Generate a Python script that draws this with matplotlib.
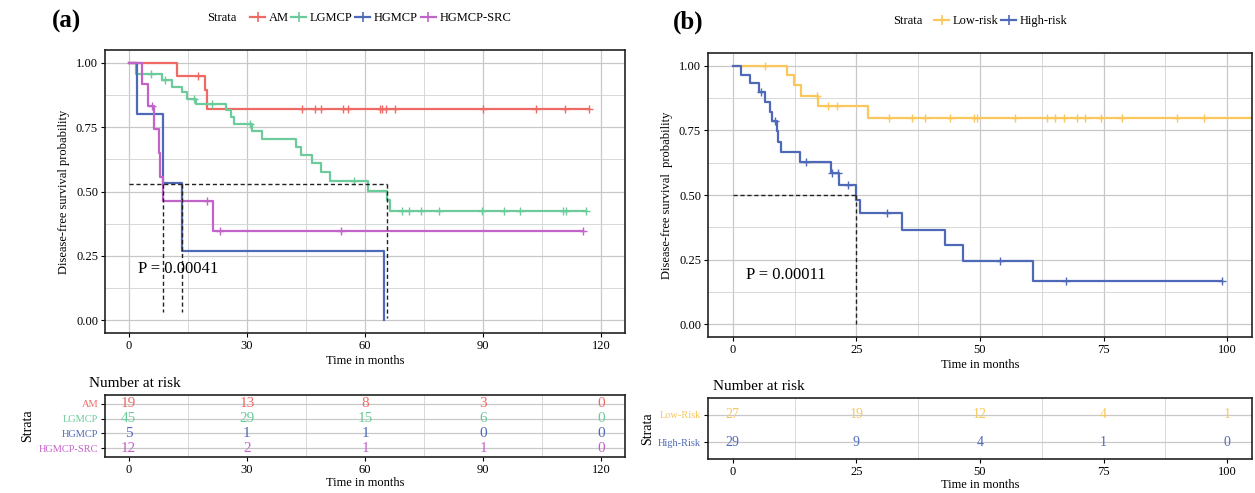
import numpy as np
import matplotlib
matplotlib.use("Agg")
import matplotlib.pyplot as plt
from matplotlib.lines import Line2D
from matplotlib.ticker import MultipleLocator

plt.rcParams['font.family'] = ['Liberation Serif', 'DejaVu Serif']

# ---- panel (a) data ----
am_t = [0, 12.3, 19.3, 19.8, 116.8]
am_s = [1.0, 0.947, 0.893, 0.821, 0.821]
am_c = [17.6, 43.9, 47.2, 48.8, 54.3, 55.6, 63.7, 64.4, 65.3, 67.7, 89.9, 103.3, 110.8, 116.8]

lg_t = [0, 1.8, 8.4, 11.0, 13.6, 14.9, 17.1, 24.6, 25.9, 26.8, 31.2, 33.8, 42.6, 43.7,
        46.6, 48.8, 51.0, 60.7, 65.7, 66.4, 116.2]
lg_s = [1.0, 0.955, 0.933, 0.907, 0.887, 0.861, 0.842, 0.816, 0.790, 0.762, 0.736, 0.705,
        0.674, 0.641, 0.609, 0.576, 0.541, 0.503, 0.466, 0.425, 0.425]
lg_c = [5.7, 9.2, 16.7, 21.1, 30.8, 57.1, 69.5, 71.2, 74.3, 78.7, 89.8, 95.4, 99.3,
        110.3, 111.1, 116.2]

hg_t = [0, 2.0, 8.8, 13.5, 64.8]
hg_s = [1.0, 0.8, 0.533, 0.267, 0.0]
hg_c = []

hs_t = [0, 3.5, 4.8, 6.5, 7.6, 7.9, 8.6, 21.5, 115.4]
hs_s = [1.0, 0.917, 0.833, 0.741, 0.648, 0.556, 0.463, 0.347, 0.347]
hs_c = [6.0, 20.0, 23.3, 54.0, 115.4]

a_names = ["AM", "LGMCP", "HGMCP", "HGMCP-SRC"]
a_cols = ["#EE6A64", "#6CCB9A", "#4E69B8", "#C263C9"]
a_risk_times = [0, 30, 60, 90, 120]
a_risk = [[19, 13, 8, 3, 0], [45, 29, 15, 6, 0], [5, 1, 1, 0, 0], [12, 2, 1, 1, 0]]
a_med_y = 0.53
a_med_x = [8.6, 13.5, 65.7]
a_med_bottom = [0.03, 0.03, 0.01]

# ---- panel (b) data ----
low_t = [0, 10.9, 12.4, 13.8, 17.3, 27.3, 106]
low_s = [1.0, 0.963, 0.926, 0.883, 0.845, 0.80, 0.80]
low_c = [6.5, 17.0, 19.3, 21.0, 31.5, 36.3, 38.8, 44.0, 48.8, 49.3, 57.0, 63.5, 65.1,
         67.0, 69.7, 71.2, 74.5, 78.8, 89.9, 95.2]
high_t = [0, 1.7, 3.5, 5.4, 6.5, 7.6, 8.0, 8.9, 9.2, 9.8, 13.6, 19.9, 21.5, 24.9, 25.8,
          34.3, 42.9, 46.5, 60.7, 98.9]
high_s = [1.0, 0.966, 0.932, 0.898, 0.859, 0.821, 0.788, 0.747, 0.705, 0.668, 0.627,
          0.585, 0.537, 0.481, 0.43, 0.366, 0.308, 0.246, 0.165, 0.165]
high_c = [5.7, 8.5, 14.9, 20.1, 21.2, 23.4, 31.1, 54.1, 67.4, 98.9]

b_names = ["Low-risk", "High-risk"]
b_tab_names = ["Low-Risk", "High-Risk"]
b_cols = ["#F9C75C", "#4E69B8"]
b_risk_times = [0, 25, 50, 75, 100]
b_risk = [[27, 19, 12, 4, 1], [29, 9, 4, 1, 0]]
b_med_y = 0.5
b_med_x = [24.9]


def style_axes(ax, xmaj, xmin_):
    ax.xaxis.set_major_locator(MultipleLocator(xmaj))
    ax.xaxis.set_minor_locator(MultipleLocator(xmin_))
    ax.grid(True, which='major', color='#c8c8c8', lw=0.9)
    ax.grid(True, which='minor', color='#d8d8d8', lw=0.7)
    ax.set_axisbelow(True)
    ax.tick_params(which='minor', length=0)
    ax.tick_params(which='major', length=3, width=0.8, labelsize=9, pad=2)
    for s in ax.spines.values():
        s.set_linewidth(1.2)
        s.set_color('#222222')


def km(ax, t, s, c, col):
    ax.step(t, s, where='post', color=col, lw=1.6)
    if len(c):
        idx = np.searchsorted(t, c, side='right') - 1
        ax.plot(c, np.array(s)[idx], ls='none', marker='+', ms=6, mew=1.0, color=col)


fig = plt.figure(figsize=(12.55, 4.93), dpi=100)
W, H = 1255, 493


def box(l, t, r, b):
    return [l / W, (H - b) / H, (r - l) / W, (b - t) / H]


# ---------- (a) ----------
ax1 = fig.add_axes(box(105, 50, 625, 333))
style_axes(ax1, 30, 15)
ax1.yaxis.set_major_locator(MultipleLocator(0.25))
ax1.yaxis.set_minor_locator(MultipleLocator(0.125))
ax1.set_yticks([0, 0.25, 0.5, 0.75, 1.0])
ax1.set_yticklabels(['0.00', '0.25', '0.50', '0.75', '1.00'])
for t, s, c, col in zip([am_t, lg_t, hg_t, hs_t], [am_s, lg_s, hg_s, hs_s],
                        [am_c, lg_c, hg_c, hs_c], a_cols):
    km(ax1, t, s, c, col)
ax1.plot([0, max(a_med_x)], [a_med_y, a_med_y], ls='--', color='#222222', lw=1.0, dashes=(3, 2))
for mx, mb in zip(a_med_x, a_med_bottom):
    ax1.plot([mx, mx], [a_med_y, mb], ls='--', color='#222222', lw=1.0, dashes=(3, 2))
ax1.text(2.5, 0.2, "P = 0.00041", fontsize=12, va='center', ha='left')
ax1.set_xlim(-6, 126)
ax1.set_ylim(-0.05, 1.05)
ax1.set_xlabel("Time in months", fontsize=9, labelpad=2)
ax1.set_ylabel("Disease-free survival probability", fontsize=9, labelpad=4)

# table (a)
t1 = fig.add_axes(box(105, 395, 625, 457))
style_axes(t1, 30, 15)
t1.set_xlim(-6, 126)
t1.set_ylim(0.4, 4.6)
t1.set_yticks([4, 3, 2, 1])
t1.set_yticklabels(a_names, fontsize=7.5)
for lab, col in zip(t1.get_yticklabels(), a_cols):
    lab.set_color(col)
t1.grid(False, which='major', axis='x')
t1.yaxis.set_minor_locator(MultipleLocator(10))
for i, (row, col) in enumerate(zip(a_risk, a_cols)):
    for tt, n in zip(a_risk_times, row):
        t1.text(tt, 4 - i, str(n), color=col, fontsize=11, ha='center', va='center')
t1.set_xlabel("Time in months", fontsize=9, labelpad=1)
t1.set_ylabel("Strata", fontsize=10, labelpad=3)
t1.set_title("Number at risk", fontsize=11, loc='left', x=-0.03, pad=6)

# ---------- (b) ----------
ax2 = fig.add_axes(box(708, 53, 1252, 337))
style_axes(ax2, 25, 12.5)
ax2.yaxis.set_major_locator(MultipleLocator(0.25))
ax2.yaxis.set_minor_locator(MultipleLocator(0.125))
ax2.set_yticks([0, 0.25, 0.5, 0.75, 1.0])
ax2.set_yticklabels(['0.00', '0.25', '0.50', '0.75', '1.00'])
for t, s, c, col in zip([low_t, high_t], [low_s, high_s], [low_c, high_c], b_cols):
    km(ax2, t, s, c, col)
ax2.plot([0, b_med_x[0]], [b_med_y, b_med_y], ls='--', color='#222222', lw=1.0, dashes=(3, 2))
ax2.plot([b_med_x[0], b_med_x[0]], [b_med_y, 0], ls='--', color='#222222', lw=1.0, dashes=(3, 2))
ax2.text(2.6, 0.19, "P = 0.00011", fontsize=12, va='center', ha='left')
ax2.set_xlim(-5, 105)
ax2.set_ylim(-0.05, 1.05)
ax2.set_xlabel("Time in months", fontsize=9, labelpad=2)
ax2.set_ylabel("Disease-free survival  probability", fontsize=9, labelpad=4)

t2 = fig.add_axes(box(708, 398, 1252, 459))
style_axes(t2, 25, 12.5)
t2.set_xlim(-5, 105)
t2.set_ylim(0.4, 2.6)
t2.set_yticks([2, 1])
t2.set_yticklabels(b_tab_names, fontsize=7.5)
for lab, col in zip(t2.get_yticklabels(), b_cols):
    lab.set_color(col)
t2.grid(False, which='major', axis='x')
t2.yaxis.set_minor_locator(MultipleLocator(10))
for i, (row, col) in enumerate(zip(b_risk, b_cols)):
    for tt, n in zip(b_risk_times, row):
        t2.text(tt, 2 - i, str(n), color=col, fontsize=10, ha='center', va='center')
t2.set_xlabel("Time in months", fontsize=9, labelpad=1)
t2.set_ylabel("Strata", fontsize=10, labelpad=3)
t2.set_title("Number at risk", fontsize=11, loc='left', x=0.01, pad=6)

# ---------- legends and panel tags ----------
def strata_legend(x_text, x_leg, y, names, cols):
    fig.text(x_text / W, 1 - y / H, "Strata", fontsize=9, va='center', ha='left')
    hs = [Line2D([], [], color=c, lw=1.6, marker='+', ms=7, mew=1.2) for c in cols]
    fig.legend(hs, names, loc='center left', bbox_to_anchor=(x_leg / W, 1 - y / H),
               ncol=len(names), frameon=False, fontsize=9, handlelength=1.2,
               handletextpad=0.3, columnspacing=0.2, borderaxespad=0, borderpad=0)


strata_legend(207, 250, 18, a_names, a_cols)
strata_legend(893, 934, 21, b_names, b_cols)
fig.text(52 / W, 1 - 21 / H, "(a)", fontsize=18, fontweight='bold', va='center')
fig.text(673 / W, 1 - 22 / H, "(b)", fontsize=18, fontweight='bold', va='center')

fig.savefig("out.png", dpi=100)
